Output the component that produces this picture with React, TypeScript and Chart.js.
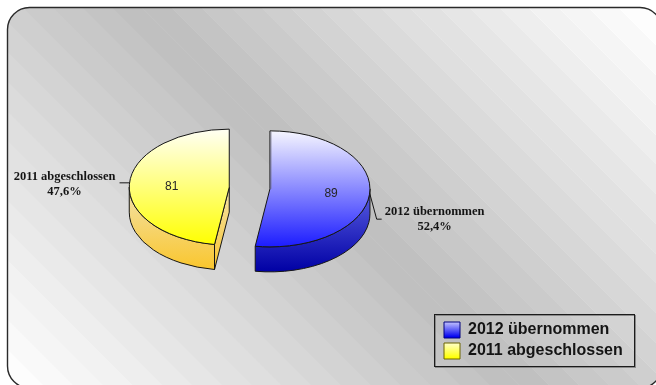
import React, { useEffect, useRef } from "react";
import { Chart, registerables } from "chart.js";

Chart.register(...registerables);

// Case counts by origin year
const categories = ["2012 übernommen", "2011 abgeschlossen"];
const caseCounts = [89, 81];

// Per-slice colours: [top of gradient, bottom of gradient]
const topFaceColors = [
  ["#f6f6ff", "#1c1cff"],
  ["#fffff4", "#ffff00"],
];
const sideFaceColors = [
  ["#5c60e4", "#0000a4"],
  ["#f2e2ac", "#fac62c"],
];
const legendSwatchColors = [
  ["#d0d0ff", "#0000f0"],
  ["#ffffd8", "#ffff00"],
];
const legendSwatchBorders = ["#00007c", "#6c6400"];

const WIDTH = 656;
const HEIGHT = 385;
const SQUASH = 0.58;
const DEPTH = 25;
const EXPLODE = 20.4;
const RADIUS = 100;
const OUTLINE = "#161616";
const LEGEND_FRAME = { left: 434.5, top: 314.5, right: 634.5, bottom: 366.5 };

const percentText = (value: number, total: number) =>
  ((value / total) * 100).toFixed(1).replace(".", ",") + "%";

// Rounded panel with a stepped diagonal grey ramp (light corners, darker middle)
function drawPanel(ctx: CanvasRenderingContext2D) {
  const [l, t, r, b, rad] = [7.5, 7.5, 662, 388, 22];
  ctx.save();
  ctx.beginPath();
  ctx.roundRect(l, t, r - l, b - t, rad);
  const grad = ctx.createLinearGradient(327 - 253, 193 + 253, 327 + 253, 193 - 253);
  const bands = 34;
  for (let i = 0; i < bands; i++) {
    const mid = (i + 0.5) / bands;
    const g = Math.round(190 + 65 * Math.abs(mid - 0.5) * 2);
    const c = `rgb(${g},${g},${g})`;
    const s = Math.min(g + 3, 255);
    grad.addColorStop(i / bands, `rgb(${s},${s},${s})`);
    grad.addColorStop(Math.min((i + 0.04) / bands, 1), c);
    grad.addColorStop((i + 1) / bands, c);
  }
  ctx.fillStyle = grad;
  ctx.fill();
  ctx.strokeStyle = "#2a2a2a";
  ctx.lineWidth = 1.4;
  ctx.stroke();
  ctx.restore();
}

const pie3dPlugin = {
  id: "pie3d",
  beforeDraw(chart: any) {
    const { ctx } = chart;
    drawPanel(ctx);
    // Frame around the legend
    const f = LEGEND_FRAME;
    ctx.save();
    ctx.strokeStyle = "#8a8a8a";
    ctx.lineWidth = 1;
    ctx.strokeRect(f.left + 1, f.top + 1, f.right - f.left, f.bottom - f.top);
    ctx.strokeStyle = "#1c1c1c";
    ctx.strokeRect(f.left, f.top, f.right - f.left, f.bottom - f.top);
    ctx.restore();
  },
  afterLayout(chart: any) {
    // Pin the legend inside its frame at the lower right of the panel
    const lg = chart.legend;
    lg.left = LEGEND_FRAME.left + 4.5;
    lg.right = LEGEND_FRAME.right;
    lg.top = LEGEND_FRAME.top;
    lg.bottom = LEGEND_FRAME.bottom;
  },
  beforeDatasetsDraw(chart: any) {
    const { ctx } = chart;
    const arcs = chart.getDatasetMeta(0).data;
    const total = caseCounts.reduce((a, b) => a + b, 0);
    const geo = arcs.map((arc: any) => {
      const mid = (arc.startAngle + arc.endAngle) / 2;
      return {
        cx: arc.x + Math.cos(mid) * EXPLODE,
        cy: arc.y + Math.sin(mid) * EXPLODE * SQUASH,
        mid,
        r: arc.outerRadius,
        ry: arc.outerRadius * SQUASH,
        a0: arc.startAngle,
        a1: arc.endAngle,
      };
    });

    const sidePaint = (i: number, g: any) => {
      const grad = ctx.createLinearGradient(0, g.cy, 0, g.cy + g.ry + DEPTH);
      grad.addColorStop(0, sideFaceColors[i][0]);
      grad.addColorStop(1, sideFaceColors[i][1]);
      return grad;
    };

    arcs.forEach((arc: any, i: number) => {
      const g = geo[i];
      ctx.save();
      ctx.strokeStyle = OUTLINE;
      ctx.lineWidth = 1;
      ctx.lineJoin = "round";

      // Outer wall: the part of the rim that faces the viewer
      const from = Math.max(g.a0, 0);
      const to = Math.min(g.a1, Math.PI);
      if (to > from) {
        ctx.beginPath();
        ctx.ellipse(g.cx, g.cy, g.r, g.ry, 0, from, to);
        ctx.ellipse(g.cx, g.cy + DEPTH, g.r, g.ry, 0, to, from, true);
        ctx.closePath();
        ctx.fillStyle = sidePaint(i, g);
        ctx.fill();
        ctx.stroke();
      }

      // Cut face of a slice whose leading edge turns toward the viewer
      if (g.a0 > 0 && g.a0 < Math.PI && Math.cos(g.a0) < 0 && g.mid > Math.PI) {
        const ex = g.cx + Math.cos(g.a0) * g.r;
        const ey = g.cy + Math.sin(g.a0) * g.ry;
        ctx.beginPath();
        ctx.moveTo(g.cx, g.cy);
        ctx.lineTo(g.cx, g.cy + DEPTH);
        ctx.lineTo(ex, ey + DEPTH);
        ctx.lineTo(ex, ey);
        ctx.closePath();
        ctx.fillStyle = sidePaint(i, g);
        ctx.fill();
        ctx.stroke();
      }

      // Top face: the library's own arc, flattened into an ellipse
      ctx.save();
      ctx.translate(0, g.cy);
      ctx.scale(1, SQUASH);
      ctx.translate(g.cx - arc.x, -arc.y);
      arc.draw(ctx);
      ctx.restore();

      ctx.beginPath();
      ctx.moveTo(g.cx, g.cy);
      ctx.ellipse(g.cx, g.cy, g.r, g.ry, 0, g.a0, g.a1);
      ctx.closePath();
      ctx.stroke();

      // Soft shading along the straight back edge of the right slice
      if (g.mid < Math.PI) {
        ctx.strokeStyle = "rgba(110,110,130,0.75)";
        ctx.beginPath();
        ctx.moveTo(g.cx + 1, g.cy - g.ry + 1);
        ctx.lineTo(g.cx + 1, g.cy);
        ctx.stroke();
      }
      ctx.restore();

      // Value inside the slice
      ctx.save();
      ctx.fillStyle = "#262626";
      ctx.font = "12px 'Liberation Sans'";
      ctx.textAlign = "center";
      ctx.textBaseline = "middle";
      ctx.fillText(
        String(caseCounts[i]),
        g.cx + Math.cos(g.mid) * g.r * 0.595 + 1.8,
        g.cy + Math.sin(g.mid) * g.ry * 0.6 + 2.5
      );
      ctx.restore();
    });

    // Leader lines and outer labels
    const leaders = [
      { elbowX: 7, elbowY: 26, endX: 12, textX: 65, textY: 19 },
      { elbowX: 0, elbowY: 0, endX: -10, textX: -65, textY: -6 },
    ];
    geo.forEach((g: any, i: number) => {
      const L = leaders[i];
      const ax = g.cx + Math.cos(g.mid) * g.r;
      const ay = g.cy + Math.sin(g.mid) * g.ry;
      ctx.save();
      ctx.strokeStyle = OUTLINE;
      ctx.lineWidth = 1;
      ctx.beginPath();
      ctx.moveTo(ax, ay);
      ctx.lineTo(ax + L.elbowX, ay + L.elbowY);
      ctx.lineTo(ax + L.endX, ay + L.elbowY);
      ctx.stroke();
      ctx.fillStyle = "#141414";
      ctx.font = "bold 12.5px 'Liberation Serif'";
      ctx.textAlign = "center";
      ctx.textBaseline = "middle";
      const tx = ax + L.textX;
      const ty = ay + L.textY;
      ctx.fillText(categories[i], tx, ty);
      ctx.fillText(percentText(caseCounts[i], total), tx, ty + 14.5);
      ctx.restore();
    });

    return false;
  },
};

export default function App() {
  const canvasRef = useRef<HTMLCanvasElement | null>(null);

  useEffect(() => {
    const chart = new Chart(canvasRef.current as HTMLCanvasElement, {
      type: "pie",
      data: {
        labels: categories,
        datasets: [
          {
            data: caseCounts,
            borderWidth: 0,
            backgroundColor: (c: any) => {
              const area = c.chart.chartArea;
              if (!area) return "#888";
              const mid = (area.top + area.bottom) / 2;
              const grad = c.chart.ctx.createLinearGradient(0, mid - RADIUS, 0, mid + RADIUS);
              const pair = topFaceColors[c.dataIndex ?? 0];
              grad.addColorStop(0, pair[0]);
              grad.addColorStop(1, pair[1]);
              return grad;
            },
          },
        ],
      },
      options: {
        responsive: false,
        animation: false,
        events: [],
        radius: RADIUS,
        layout: { padding: { left: 0, right: 156.8, top: 0, bottom: 9 } },
        plugins: {
          tooltip: { enabled: false },
          legend: {
            position: "chartArea",
            labels: {
              font: { family: "'Liberation Sans'", size: 16, weight: "bold" },
              color: "#141414",
              boxWidth: 16,
              boxHeight: 16,
              padding: 5,
              generateLabels: (chart: any) =>
                categories.map((text, i) => {
                  const y0 = 321 + i * 21;
                  const grad = chart.ctx.createLinearGradient(0, y0, 0, y0 + 16);
                  grad.addColorStop(0, legendSwatchColors[i][0]);
                  grad.addColorStop(1, legendSwatchColors[i][1]);
                  return {
                    text,
                    fillStyle: grad,
                    strokeStyle: legendSwatchBorders[i],
                    lineWidth: 1,
                    fontColor: "#141414",
                    hidden: false,
                    index: i,
                  };
                }),
            },
          },
        },
      } as any,
      plugins: [pie3dPlugin as any],
    });
    return () => chart.destroy();
  }, []);

  return (
    <div style={{ position: "fixed", left: 0, top: 0, width: WIDTH, height: HEIGHT, background: "#fff" }}>
      <canvas ref={canvasRef} width={WIDTH} height={HEIGHT} style={{ display: "block" }} />
    </div>
  );
}
